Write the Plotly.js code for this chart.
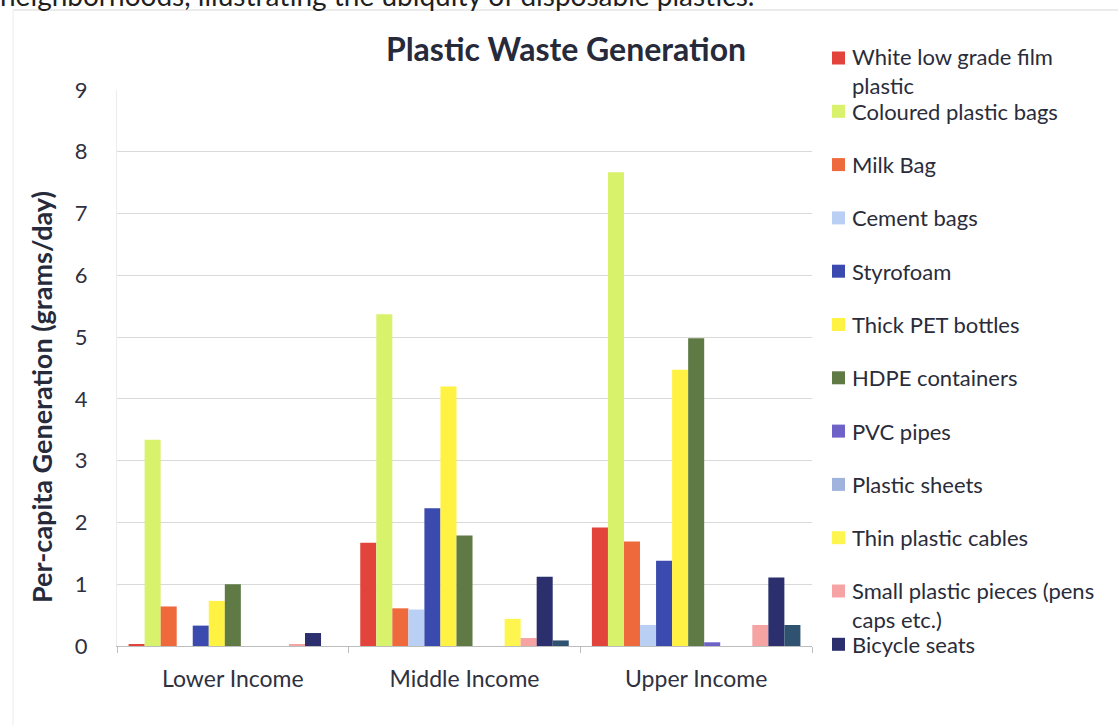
<!DOCTYPE html>
<html>
<head>
<meta charset="utf-8">
<script src="https://cdn.plot.ly/plotly-3.0.1.min.js"></script>
<style>
  html, body { margin: 0; padding: 0; background: #ffffff; }
  #chart { width: 1118px; height: 725px; }
</style>
</head>
<body>
<div id="chart"></div>
<script>
// Income groups along the x axis
const categories = ["Lower Income", "Middle Income", "Upper Income"];

// Per-capita generation (grams/day) for each plastic type
const whiteFilmPlastic   = [0.03, 1.67, 1.92];
const colouredBags       = [3.34, 5.37, 7.67];
const milkBag            = [0.64, 0.61, 1.69];
const cementBags         = [0.00, 0.59, 0.34];
const styrofoam          = [0.33, 2.23, 1.38];
const thickPetBottles    = [0.73, 4.20, 4.47];
const hdpeContainers     = [1.00, 1.79, 4.98];
const pvcPipes           = [0.00, 0.00, 0.06];
const plasticSheets      = [0.00, 0.00, 0.00];
const thinCables         = [0.00, 0.44, 0.00];
const smallPieces        = [0.02, 0.13, 0.34];
const bicycleSeats       = [0.21, 1.12, 1.11];
const otherPlastics      = [0.00, 0.09, 0.34];

const seriesNames = [
  "White low grade film plastic",
  "Coloured plastic bags",
  "Milk Bag",
  "Cement bags",
  "Styrofoam",
  "Thick PET bottles",
  "HDPE containers",
  "PVC pipes",
  "Plastic sheets",
  "Thin plastic cables",
  "Small plastic pieces (pens caps etc.)",
  "Bicycle seats",
  "Other"
];

const seriesValues = [
  whiteFilmPlastic, colouredBags, milkBag, cementBags, styrofoam,
  thickPetBottles, hdpeContainers, pvcPipes, plasticSheets, thinCables,
  smallPieces, bicycleSeats, otherPlastics
];

const seriesColors = [
  "#e2433b", "#d9f26c", "#ee6a3d", "#b9cff3", "#3b4aae",
  "#fff243", "#5f7a45", "#6e62c8", "#9fb3dc", "#fff54f",
  "#f6a3a3", "#2b2f6e", "#2f5270"
];

// only the first twelve series appear in the key
const keyedSeries = 12;

const traces = seriesValues.map((vals, i) => ({
  type: "bar",
  name: seriesNames[i],
  x: categories,
  y: vals,
  marker: { color: seriesColors[i], line: { width: 0 } },
  showlegend: false,
  hovertemplate: "%{x}<br>" + seriesNames[i] + ": %{y} g/day<extra></extra>"
}));

// plot area geometry in pixels
const W = 1118, H = 725;
const M = { l: 117, r: 306, t: 90, b: 79 };
const plotW = W - M.l - M.r;
const plotH = H - M.t - M.b;
const px2x = px => (px - M.l) / plotW;
const py2y = py => (H - M.b - py) / plotH;

// word wrap for the key labels
function wrapLabel(text, maxChars) {
  const words = text.split(" ");
  const lines = [];
  let cur = "";
  words.forEach(w => {
    if (cur && (cur + " " + w).length > maxChars) { lines.push(cur); cur = w; }
    else { cur = cur ? cur + " " + w : w; }
  });
  if (cur) lines.push(cur);
  return lines;
}

const FONT = "Lato, 'Open Sans', sans-serif";
const keyFont = { family: FONT, size: 22, color: "#2a2c3a" };
const keyTop = 58, keyStep = 53.3, keyLineH = 27;

const shapes = [];
const annotations = [];

for (let i = 0; i < keyedSeries; i++) {
  const cy = keyTop + i * keyStep;
  shapes.push({
    type: "rect", xref: "paper", yref: "paper",
    xsizemode: "pixel", ysizemode: "pixel",
    xanchor: px2x(838.5), yanchor: py2y(cy),
    x0: -6.5, x1: 6.5, y0: -6.5, y1: 6.5,
    fillcolor: seriesColors[i], line: { width: 0 }
  });
  const lines = wrapLabel(seriesNames[i], 26);
  annotations.push({
    xref: "paper", yref: "paper",
    x: px2x(850), y: py2y(cy),
    xanchor: "left", yanchor: "middle", align: "left",
    yshift: -(lines.length - 1) * keyLineH / 2,
    text: lines.join("<br>"),
    showarrow: false, font: keyFont
  });
}

// vertical axis title
annotations.push({
  xref: "paper", yref: "paper",
  x: px2x(41), y: py2y(397),
  xanchor: "center", yanchor: "middle",
  text: "<b>Per-capita Generation (grams/day)</b>",
  textangle: -90, showarrow: false,
  font: { family: FONT, size: 27, color: "#262a3b" }
});

// running caption line above the chart frame
annotations.push({
  xref: "paper", yref: "paper",
  x: px2x(-2), y: 1, xanchor: "left", yanchor: "middle",
  yshift: M.t + 5,
  text: "neighborhoods, illustrating the ubiquity of disposable plastics.",
  showarrow: false,
  font: { family: FONT, size: 28, color: "#1f1f1f" }
});

// faint chart frame
shapes.push({
  type: "line", xref: "paper", yref: "paper",
  x0: px2x(13), x1: px2x(1130), y0: py2y(10), y1: py2y(10),
  line: { color: "#d8d8d8", width: 1 }
});
shapes.push({
  type: "line", xref: "paper", yref: "paper",
  x0: px2x(13), x1: px2x(13), y0: py2y(10), y1: py2y(740),
  line: { color: "#ececec", width: 1 }
});

const layout = {
  width: W, height: H,
  margin: M,
  paper_bgcolor: "#ffffff",
  plot_bgcolor: "#ffffff",
  barmode: "group",
  bargap: 0.1,
  bargroupgap: 0,
  showlegend: false,
  title: {
    text: "<b>Plastic Waste Generation</b>",
    xref: "container", yref: "container",
    x: 566 / W, y: 1 - 50 / H,
    xanchor: "center", yanchor: "middle",
    font: { family: FONT, size: 32, color: "#262a3b" }
  },
  xaxis: {
    type: "category",
    tickson: "boundaries",
    ticks: "outside", ticklen: 6, tickcolor: "#bdbdbd",
    showline: true, linecolor: "#bdbdbd", linewidth: 1,
    showgrid: false,
    ticklabelstandoff: 12,
    tickfont: { family: FONT, size: 23, color: "#2f3140" }
  },
  yaxis: {
    range: [0, 9],
    dtick: 1,
    showgrid: true, gridcolor: "#d9d9d9", gridwidth: 1,
    zeroline: false,
    showline: true, linecolor: "#ececec",
    ticks: "",
    ticklabelstandoff: 24,
    tickfont: { family: FONT, size: 22, color: "#2f3140" }
  },
  shapes: shapes,
  annotations: annotations
};

Plotly.newPlot("chart", traces, layout, { displayModeBar: false, staticPlot: false });
</script>
</body>
</html>
